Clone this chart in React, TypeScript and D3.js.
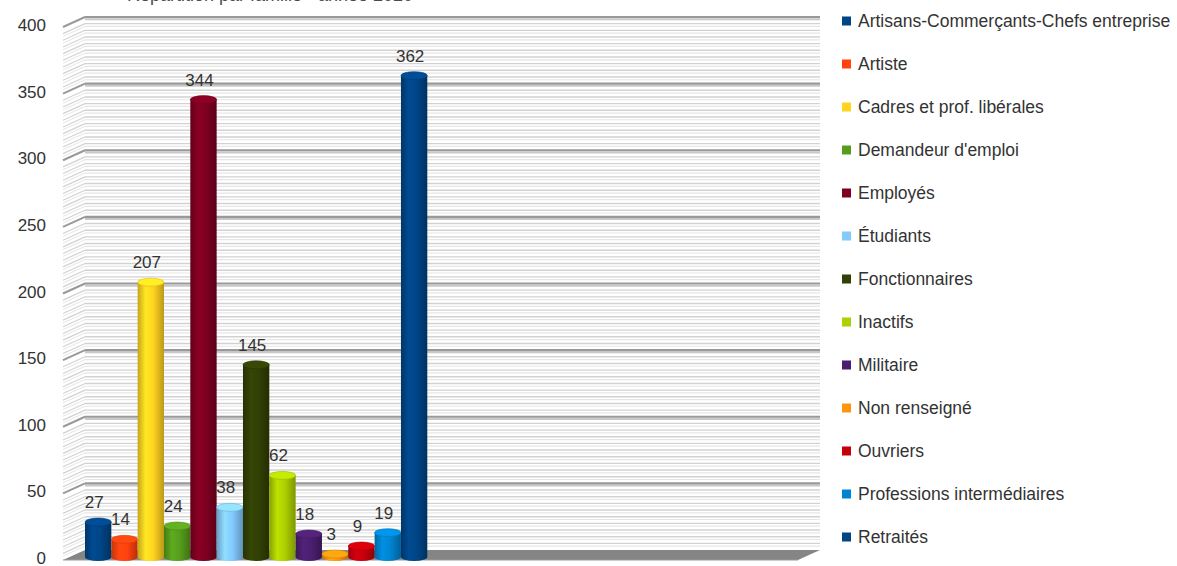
import React from "react";
import * as d3 from "d3";

const categories = [
  "Artisans-Commerçants-Chefs entreprise",
  "Artiste",
  "Cadres et prof. libérales",
  "Demandeur d'emploi",
  "Employés",
  "Étudiants",
  "Fonctionnaires",
  "Inactifs",
  "Militaire",
  "Non renseigné",
  "Ouvriers",
  "Professions intermédiaires",
  "Retraités",
];
const values = [27, 14, 207, 24, 344, 38, 145, 62, 18, 3, 9, 19, 362];
const colors = [
  "#004586", "#ff420e", "#ffd320", "#579d1c", "#7e0021", "#83caff", "#314004",
  "#aecf00", "#4b1f6f", "#ff950e", "#c5000b", "#0084d1", "#004586",
];
const yTicks = [0, 50, 100, 150, 200, 250, 300, 350, 400];
const title = "Répartition par famille - année 2020";

const W = 1177;
const H = 566;
const font = "'Liberation Sans', Arial, sans-serif";

// 3d look: back wall is shifted by this much from the front edge
const depthX = 22;
const frontX = 63;
const wallRight = 820;

const App = () => {
  const y = d3.scaleLinear().domain([0, 400]).range([558, 25]);
  const x = d3
    .scaleBand<string>()
    .domain(categories)
    .range([85, 85 + 26.33 * categories.length])
    .paddingInner(0);
  const bw = x.bandwidth();
  const ry = 4;
  const minor = d3.range(0, 401, 5).filter(v => v % 50 !== 0);

  const backY = (v: number) => y(v) - 8;
  const frontY = (v: number) => y(v) + 2;
  const backX0 = frontX + depthX;

  return (
    <svg
      width={W}
      height={H}
      style={{ position: "absolute", left: 0, top: 0, background: "#fff" }}
      fontFamily={font}
    >
      <defs>
        {colors.map((c, i) => {
          const base = d3.color(c)!;
          return (
            <linearGradient key={i} id={`cyl${i}`} x1="0" x2="1" y1="0" y2="0">
              <stop offset="0" stopColor={base.darker(0.7).formatHex()} />
              <stop offset="0.3" stopColor={base.brighter(0.25).formatHex()} />
              <stop offset="0.6" stopColor={c} />
              <stop offset="1" stopColor={base.darker(0.9).formatHex()} />
            </linearGradient>
          );
        })}
      </defs>

      {/* title, cut at the top like the original */}
      <text x={270} y={1} textAnchor="middle" fontSize={18} fill="#4a4a4a">
        {title}
      </text>

      {/* back wall minor stripes */}
      <g>
        {minor.map(v => (
          <g key={v}>
            <line x1={backX0} x2={wallRight} y1={backY(v)} y2={backY(v)} stroke="#d2d2d2" strokeWidth={1.4} />
            <line x1={backX0} x2={wallRight} y1={backY(v) + 2.8} y2={backY(v) + 2.8} stroke="#e6e6e6" strokeWidth={1.2} />
          </g>
        ))}
        {minor.map(v => (
          <g key={"s" + v}>
            <line x1={frontX} x2={backX0} y1={frontY(v)} y2={backY(v)} stroke="#d2d2d2" strokeWidth={1.2} />
            <line x1={frontX} x2={backX0} y1={frontY(v) + 2.8} y2={backY(v) + 2.8} stroke="#e6e6e6" strokeWidth={1} />
          </g>
        ))}
      </g>

      {/* major gridlines */}
      <g>
        {yTicks.filter(v => v > 0).map(v => (
          <g key={v}>
            <line x1={backX0} x2={wallRight} y1={backY(v) + 2.2} y2={backY(v) + 2.2} stroke="#c8c8c8" strokeWidth={2} />
            <line x1={backX0} x2={wallRight} y1={backY(v)} y2={backY(v)} stroke="#999" strokeWidth={2.2} />
            <line x1={frontX} x2={backX0} y1={frontY(v)} y2={backY(v)} stroke="#999" strokeWidth={2} />
          </g>
        ))}
      </g>

      {/* floor */}
      <path
        d={`M${frontX},${frontY(0)} L${backX0},${backY(0)} L${wallRight},${backY(0)} L${wallRight - depthX},${frontY(0)} Z`}
        fill="#858585"
      />
      <line x1={frontX} x2={wallRight - depthX} y1={frontY(0)} y2={frontY(0)} stroke="#9a9a9a" strokeWidth={1} />

      {/* y axis labels */}
      <g fontSize={17} fill="#333" textAnchor="end">
        {yTicks.map(v => (
          <text key={v} x={46} y={y(v) + 6}>
            {v}
          </text>
        ))}
      </g>

      {/* cylinders */}
      <g>
        {categories.map((c, i) => {
          const x0 = x(c)!;
          const x1 = x0 + bw;
          const cx = x0 + bw / 2;
          const top = y(values[i]);
          const base = y(0) - 1;
          return (
            <g key={c}>
              <path
                d={`M${x0},${top} L${x0},${base} A${bw / 2},${ry} 0 0 0 ${x1},${base} L${x1},${top} Z`}
                fill={`url(#cyl${i})`}
              />
              <ellipse
                cx={cx}
                cy={top}
                rx={bw / 2}
                ry={ry}
                fill={d3.color(colors[i])!.brighter(0.35).formatHex()}
                stroke={d3.color(colors[i])!.darker(0.4).formatHex()}
                strokeWidth={0.6}
              />
            </g>
          );
        })}
      </g>

      {/* value labels */}
      <g fontSize={17} fill="#333" textAnchor="middle">
        {categories.map((c, i) => (
          <text key={c} x={x(c)! + bw / 2 - 4} y={y(values[i]) - 14}>
            {values[i]}
          </text>
        ))}
      </g>

      {/* legend */}
      <g fontSize={17.5} fill="#333">
        {categories.map((c, i) => (
          <g key={c} transform={`translate(842, ${21 + i * 43})`}>
            <rect x={0} y={-4.5} width={9} height={9} fill={colors[i]} />
            <text x={16} y={6}>
              {c}
            </text>
          </g>
        ))}
      </g>
    </svg>
  );
};

export default App;
